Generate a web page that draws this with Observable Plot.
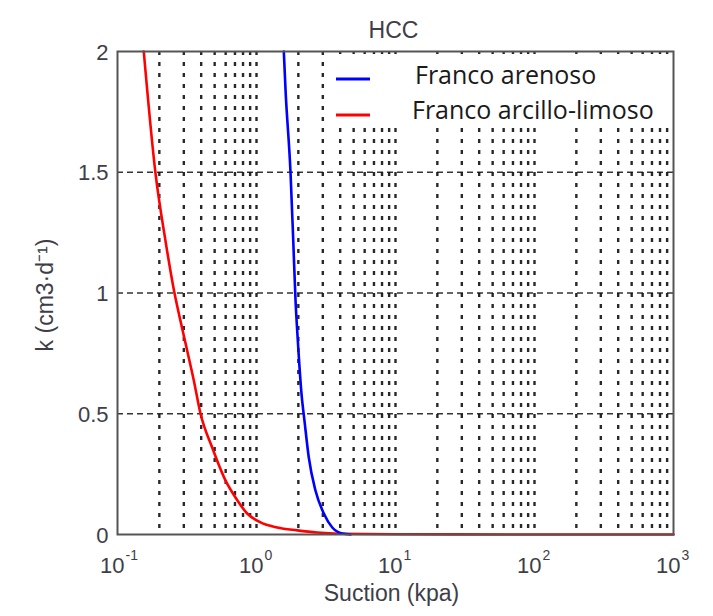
<!DOCTYPE html>
<html>
<head>
<meta charset="utf-8">
<script src="https://cdn.jsdelivr.net/npm/d3@7"></script>
<script src="https://cdn.jsdelivr.net/npm/@observablehq/plot@0.6"></script>
<style>
  html, body { margin: 0; padding: 0; background: #fff; }
  #chart { width: 713px; height: 616px; }
</style>
</head>
<body>
<div id="chart"></div>
<script>
// Series: Franco arenoso (blue)
const arenosoSuction = [1.572, 1.618, 1.758, 1.838, 1.909, 1.983, 2.098, 2.225, 2.378, 2.656, 3.05, 3.51, 4.14, 4.75];
const arenosoK       = [2.0, 1.84, 1.495, 1.217, 0.969, 0.803, 0.596, 0.46, 0.319, 0.182, 0.087, 0.029, 0.004, 0.0];
// Series: Franco arcillo-limoso (red)
const limosoSuction = [0.1545, 0.1877, 0.2213, 0.257, 0.2815, 0.3136, 0.354, 0.3954, 0.48, 0.598, 0.706, 0.857, 1.069, 1.409, 1.963, 2.735, 4, 10, 100, 1000];
const limosoK       = [2.0, 1.495, 1.217, 1.0, 0.894, 0.774, 0.638, 0.501, 0.36, 0.224, 0.153, 0.087, 0.05, 0.029, 0.017, 0.008, 0.003, 0.001, 0, 0];

const seriesNames = ["Franco arenoso", "Franco arcillo-limoso"];
const seriesColors = ["#0000ff", "#ff0000"];

// Axis ticks
const xDecades = [0.1, 1, 10, 100, 1000];
const xExponents = ["-1", "0", "1", "2", "3"];
const yTicks = [0, 0.5, 1, 1.5, 2];
const yGrid = [0.5, 1, 1.5];
const minorMultipliers = [1, 2, 3, 4, 5, 6, 7, 8, 9];

const xGrid = [];
for (const d of xDecades.slice(0, 4)) for (const m of minorMultipliers) xGrid.push(d * m);
xGrid.shift();

const arenoso = arenosoSuction.map((s, i) => ({s, k: arenosoK[i]}));
const limoso = limosoSuction.map((s, i) => ({s, k: limosoK[i]}));
const decadeData = xDecades.map((d, i) => ({d, e: xExponents[i]}));

const font = "'Liberation Sans', Arial, sans-serif";
const grey = "#3e3e48";

const chart = Plot.plot({
  width: 713,
  height: 616,
  marginLeft: 117,
  marginRight: 40,
  marginTop: 51,
  marginBottom: 82,
  style: {fontFamily: font, background: "#fff", color: grey},
  x: {type: "log", domain: [0.1, 1000], axis: null},
  y: {domain: [0, 2], axis: null},
  marks: [
    Plot.ruleX(xGrid, {stroke: "#111", strokeWidth: 2.4, strokeDasharray: "4,7", strokeOpacity: 0.9}),
    Plot.ruleY(yGrid, {stroke: "#111", strokeWidth: 1.6, strokeDasharray: "6,4", strokeOpacity: 0.85}),
    Plot.line(limoso, {x: "s", y: "k", stroke: seriesColors[1], strokeWidth: 2.6, curve: "monotone-x"}),
    Plot.line(arenoso, {x: "s", y: "k", stroke: seriesColors[0], strokeWidth: 2.6, curve: "monotone-x"}),
    Plot.frame({stroke: "#555", strokeWidth: 2}),
    Plot.text(yTicks, {x: 0.1, y: d => d, text: d => String(d), textAnchor: "end", dx: -9, dy: 1, fontSize: 22, fill: grey}),
    Plot.text(decadeData, {x: "d", y: 0, text: () => "10", textAnchor: "end", dx: 7, dy: 31, fontSize: 22, fill: grey}),
    Plot.text(decadeData, {x: "d", y: 0, text: "e", textAnchor: "start", dx: 8, dy: 21, fontSize: 14, fill: grey}),
    Plot.text(["Suction (kpa)"], {frameAnchor: "bottom", dx: -4, dy: 66, fontSize: 23, fill: grey}),
    Plot.text(["k (cm3·d\u207B\u00B9)"], {frameAnchor: "left", textAnchor: "middle", rotate: -90, dx: -72, dy: 2, fontSize: 23, fill: grey}),
    Plot.text(["HCC"], {frameAnchor: "top", dx: -2, dy: -30, fontSize: 23, fill: grey})
  ]
});

document.getElementById("chart").appendChild(chart);

// Legend drawn over the plot area (top-right)
const svgSel = d3.select(chart);
const lg = svgSel.append("g");
const boxL = 333, boxT = 54, boxR = 671, boxB = 125;
lg.append("rect").attr("x", boxL).attr("y", boxT).attr("width", boxR - boxL).attr("height", boxB - boxT).attr("fill", "#fff");
const rowsY = [79, 115];
seriesNames.forEach((name, i) => {
  lg.append("line").attr("x1", 336).attr("x2", 370).attr("y1", rowsY[i]).attr("y2", rowsY[i])
    .attr("stroke", seriesColors[i]).attr("stroke-width", 3);
  lg.append("text").attr("x", i === 0 ? 415 : 412).attr("y", rowsY[i] + (i === 0 ? 5 : 4))
    .attr("text-anchor", "start")
    .attr("font-family", "'Open Sans', 'Noto Sans', sans-serif").attr("font-size", 25)
    .attr("fill", "#1a1a1a").text(name);
});
</script>
</body>
</html>
